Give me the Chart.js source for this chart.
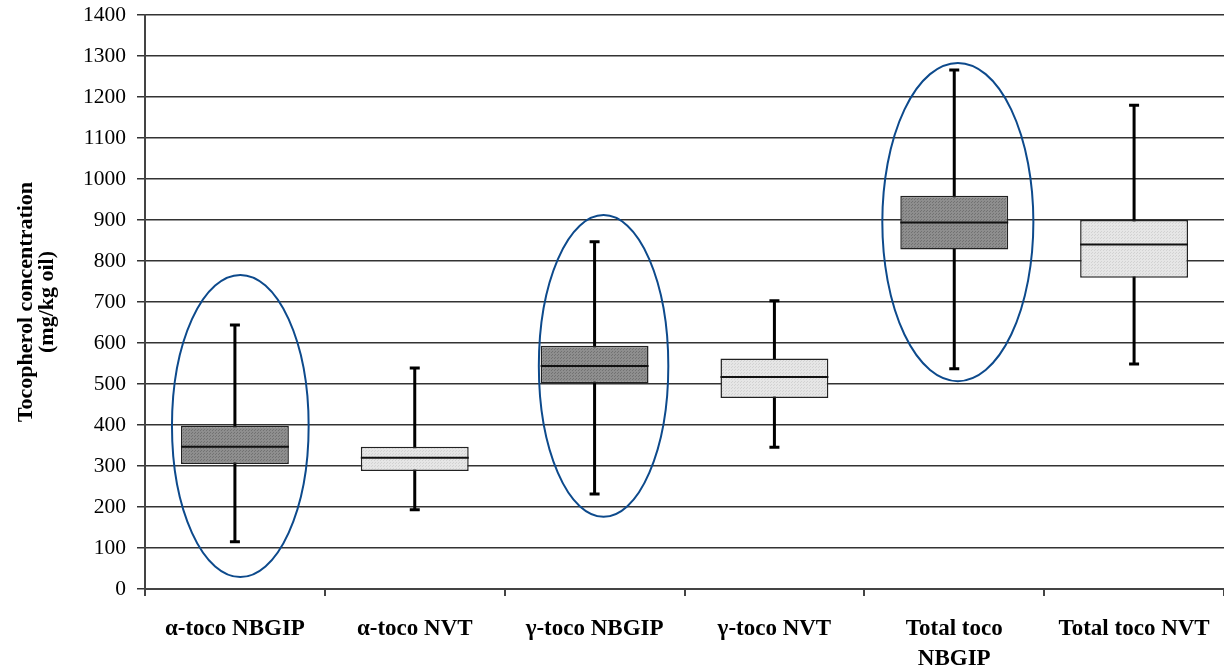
<!DOCTYPE html>
<html>
<head>
<meta charset="utf-8">
<script src="https://cdn.jsdelivr.net/npm/chart.js@4.4.0/dist/chart.umd.min.js"></script>
<style>
    html, body { margin: 0; padding: 0; background: #fff; }
    #wrap { width: 1224px; height: 666px; }
</style>
</head>
<body>
<div id="wrap"><canvas id="boxChart"></canvas></div>
<script>
const categories = ['α-toco NBGIP', 'α-toco NVT', 'γ-toco NBGIP', 'γ-toco NVT', ['Total toco', 'NBGIP'], 'Total toco NVT'];

// box plot values (mg/kg oil)
const whiskerLow  = [115, 193, 232, 346, 537, 549];
const q1          = [305, 288, 502, 466, 828, 759];
const medians     = [347, 320, 544, 517, 894, 840];
const q3          = [398, 347, 593, 562, 959, 900];
const whiskerHigh = [644, 539, 847, 703, 1266, 1180];

// ellipses drawn round the NBGIP groups
const ellipseIndex = [0, 2, 4];
const ellipseLow   = [29, 176, 507];
const ellipseHigh  = [766, 912, 1283];

const yTicks = [0, 100, 200, 300, 400, 500, 600, 700, 800, 900, 1000, 1100, 1200, 1300, 1400];

function makePattern(base, dot) {
    const c = document.createElement('canvas');
    c.width = 3; c.height = 3;
    const g = c.getContext('2d');
    g.fillStyle = base;
    g.fillRect(0, 0, 3, 3);
    g.fillStyle = dot;
    g.fillRect(0, 0, 1, 1);
    g.fillRect(2, 1, 1, 1);
    return g.createPattern(c, 'repeat');
}

const darkFill = makePattern('#8e8e8e', '#727272');
const lightFill = makePattern('#e6e6e6', '#d2d2d2');
const fills = categories.map((c, i) => i % 2 === 0 ? darkFill : lightFill);

const boxPlugin = {
    id: 'boxParts',
    beforeDatasetsDraw(chart) {
        const ctx = chart.ctx;
        const x = chart.scales.x, y = chart.scales.y;
        ctx.save();
        ctx.strokeStyle = '#000';
        ctx.lineWidth = 3;
        whiskerLow.forEach((lo, i) => {
            const cx = x.getPixelForValue(i);
            const yl = y.getPixelForValue(lo), yh = y.getPixelForValue(whiskerHigh[i]);
            ctx.beginPath();
            ctx.moveTo(cx, yl); ctx.lineTo(cx, yh);
            ctx.moveTo(cx - 5, yl); ctx.lineTo(cx + 5, yl);
            ctx.moveTo(cx - 5, yh); ctx.lineTo(cx + 5, yh);
            ctx.stroke();
        });
        ctx.restore();
    },
    afterDatasetsDraw(chart) {
        const ctx = chart.ctx;
        const x = chart.scales.x, y = chart.scales.y;
        const meta = chart.getDatasetMeta(0);
        ctx.save();
        ctx.strokeStyle = '#111';
        ctx.lineWidth = 2;
        medians.forEach((m, i) => {
            const bar = meta.data[i];
            const ym = y.getPixelForValue(m);
            ctx.beginPath();
            ctx.moveTo(bar.x - bar.width / 2, ym);
            ctx.lineTo(bar.x + bar.width / 2, ym);
            ctx.stroke();
        });
        // ellipses
        const step = x.getPixelForValue(1) - x.getPixelForValue(0);
        const widths = [0.38, 0.36, 0.42];
        const shifts = [0.03, 0.05, 0.02];
        ctx.strokeStyle = '#0d4a8c';
        ctx.lineWidth = 2;
        ellipseIndex.forEach((idx, k) => {
            const cx = x.getPixelForValue(idx) + shifts[k] * step;
            const yTop = y.getPixelForValue(ellipseHigh[k]);
            const yBot = y.getPixelForValue(ellipseLow[k]);
            ctx.beginPath();
            ctx.ellipse(cx, (yTop + yBot) / 2, widths[k] * step, (yBot - yTop) / 2, 0, 0, Math.PI * 2);
            ctx.stroke();
        });
        ctx.restore();
    }
};

const config = {
    type: 'bar',
    data: {
        labels: categories,
        datasets: [{
            data: q1.map((v, i) => [v, q3[i]]),
            backgroundColor: fills,
            borderColor: '#222',
            borderWidth: 1.5,
            borderSkipped: false,
            barPercentage: 0.6,
            categoryPercentage: 1
        }]
    },
    options: {
        responsive: true,
        maintainAspectRatio: false,
        animation: false,
        layout: { autoPadding: false, padding: { top: 15, right: 0, left: 0, bottom: 0 } },
        plugins: {
            legend: { display: false },
            tooltip: { enabled: false }
        },
        scales: {
            x: {
                offset: true,
                grid: {
                    offset: true,
                    drawOnChartArea: false,
                    drawTicks: true,
                    tickLength: 7,
                    color: '#444',
                    lineWidth: 2
                },
                border: { display: true, color: '#444', width: 2 },
                ticks: {
                    color: '#000',
                    padding: 18,
                    maxRotation: 0,
                    autoSkip: false,
                    font: { family: 'Liberation Serif', size: 23, weight: 'bold', lineHeight: 1.3 }
                },
                afterFit(scale) {
                    scale.height = 77;
                    scale.paddingLeft = 0;
                    scale.paddingRight = 0;
                }
            },
            y: {
                min: 0,
                max: 1400,
                afterBuildTicks(scale) { scale.ticks = yTicks.map(v => ({ value: v })); },
                grid: {
                    color: '#333',
                    lineWidth: 1.5,
                    tickLength: 8
                },
                border: { display: true, color: '#444', width: 2 },
                ticks: {
                    color: '#000',
                    padding: 11,
                    callback: v => String(v),
                    font: { family: 'Liberation Serif', size: 21.5 }
                },
                title: {
                    display: true,
                    text: ['Tocopherol concentration', '(mg/kg oil)'],
                    color: '#000',
                    padding: { top: 16, bottom: 0 },
                    font: { family: 'Liberation Serif', size: 22, weight: 'bold', lineHeight: 0.95 }
                },
                afterFit(scale) {
                    scale.width = 145;
                    scale.paddingTop = 0;
                    scale.paddingBottom = 0;
                }
            }
        }
    },
    plugins: [boxPlugin]
};

new Chart(document.getElementById('boxChart').getContext('2d'), config);
</script>
</body>
</html>
